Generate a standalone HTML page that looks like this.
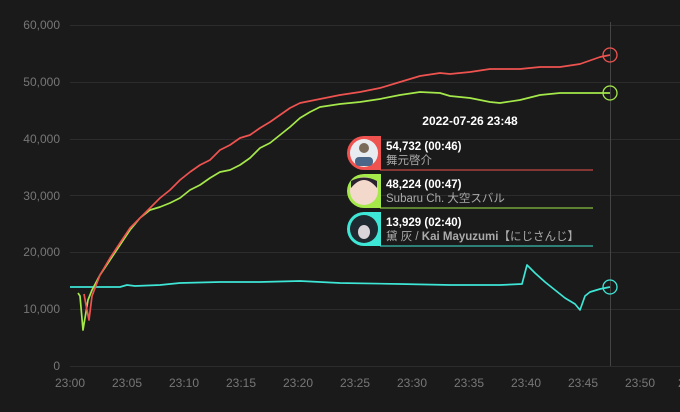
<!DOCTYPE html>
<html><head><style>
body{margin:0;background:#1a1a1a;}
svg{display:block;font-family:"Liberation Sans","Noto Sans CJK JP",sans-serif;}
</style></head><body>
<svg width="680" height="412" viewBox="0 0 680 412">
<rect width="680" height="412" fill="#1a1a1a"/>
<g stroke="#2c2c2c" stroke-width="1">
<line x1="70" x2="680" y1="25.5" y2="25.5"/><line x1="70" x2="680" y1="82.5" y2="82.5"/>
<line x1="70" x2="680" y1="139.5" y2="139.5"/><line x1="70" x2="680" y1="195.5" y2="195.5"/>
<line x1="70" x2="680" y1="252.5" y2="252.5"/><line x1="70" x2="680" y1="309.5" y2="309.5"/>
<line x1="70" x2="680" y1="366.5" y2="366.5"/>
</g>
<line x1="610.5" x2="610.5" y1="22" y2="366" stroke="#444" stroke-width="1"/>
<g fill="#777" font-size="12" text-anchor="end">
<text x="60" y="29">60,000</text><text x="60" y="86">50,000</text><text x="60" y="143">40,000</text>
<text x="60" y="200">30,000</text><text x="60" y="256">20,000</text><text x="60" y="313">10,000</text>
<text x="60" y="370">0</text></g>
<g fill="#777" font-size="12" text-anchor="middle">
<text x="70" y="387">23:00</text><text x="127" y="387">23:05</text><text x="184" y="387">23:10</text>
<text x="241" y="387">23:15</text><text x="298" y="387">23:20</text><text x="355" y="387">23:25</text>
<text x="412" y="387">23:30</text><text x="469" y="387">23:35</text><text x="526" y="387">23:40</text>
<text x="583" y="387">23:45</text><text x="640" y="387">23:50</text><text x="693" y="387">23:55</text></g>
<g fill="none" stroke-width="1.7" stroke-linejoin="round">
<polyline stroke="#3ee6d6" points="70,287 120,287 127,285 135,286 160,285 180,283 220,282 260,282 300,281 340,283 400,284 450,285 500,285 522,284 527,265 535,273 545,282 555,290 565,298 575,304 580,310 585,296 590,292 600,289 610,287"/>
<polyline stroke="#a4e84a" points="78,293 80,296 83,330 86,312 88,300 92,290 100,275 110,260 120,245 130,230 140,218 150,210 160,207 170,203 180,198 190,190 200,185 210,178 220,172 230,170 240,165 250,158 260,148 270,143 280,135 290,127 300,118 310,112 320,107 340,104 360,102 380,99 400,95 420,92 440,93 450,96 470,98 490,102 500,103 520,100 540,95 560,93 580,93 600,93 610,93"/>
<polyline stroke="#ef5350" points="84,294 86,305 89,320 92,296 100,275 110,258 120,243 130,228 140,218 150,208 160,198 170,190 180,180 190,172 200,165 210,160 220,150 230,145 240,138 250,135 260,128 270,122 280,115 290,108 300,103 320,99 340,95 360,92 380,88 400,82 420,76 440,73 450,74 470,72 490,69 520,69 540,67 560,67 580,64 600,57 610,55"/>
</g>
<circle cx="610" cy="55" r="7" fill="none" stroke="#ef5350" stroke-width="1.3"/>
<circle cx="610" cy="93" r="7" fill="none" stroke="#a4e84a" stroke-width="1.3"/>
<circle cx="610" cy="287" r="7" fill="none" stroke="#3ee6d6" stroke-width="1.3"/>
<text x="470" y="125" fill="#fff" font-size="12" font-weight="bold" text-anchor="middle">2022-07-26 23:48</text>
<g>
<rect x="364" y="136" width="17" height="34" fill="#ef5350"/>
<circle cx="364" cy="153" r="17" fill="#ef5350"/><circle cx="364" cy="153" r="14" fill="#e8ecf0"/>
<circle cx="364" cy="148" r="5" fill="#7a6a5a"/><rect x="355" y="157" width="18" height="9" rx="4" fill="#4a6688"/>
<line x1="380" x2="593" y1="170" y2="170" stroke="#ef5350" stroke-width="1"/>
<text x="386" y="150" fill="#fff" font-size="11.5" font-weight="bold">54,732 (00:46)</text>
<text x="386" y="164" fill="#aaa" font-size="11.5">舞元啓介</text>
<rect x="364" y="174" width="17" height="34" fill="#a4e84a"/>
<circle cx="364" cy="191" r="17" fill="#a4e84a"/><circle cx="364" cy="191" r="14" fill="#f3d8cc"/>
<path d="M351,188 Q364,172 377,188 L377,181 Q364,174 351,181Z" fill="#2a2230"/>
<line x1="380" x2="593" y1="208" y2="208" stroke="#a4e84a" stroke-width="1"/>
<text x="386" y="188" fill="#fff" font-size="11.5" font-weight="bold">48,224 (00:47)</text>
<text x="386" y="202" fill="#aaa" font-size="11.5">Subaru Ch. 大空スバル</text>
<rect x="364" y="212" width="17" height="34" fill="#3ee6d6"/>
<circle cx="364" cy="229" r="17" fill="#3ee6d6"/><circle cx="364" cy="229" r="14" fill="#1e2a30"/>
<ellipse cx="364" cy="232" rx="6" ry="7" fill="#d8d4d8"/>
<line x1="380" x2="593" y1="246" y2="246" stroke="#3ee6d6" stroke-width="1"/>
<text x="386" y="226" fill="#fff" font-size="11.5" font-weight="bold">13,929 (02:40)</text>
<text x="386" y="240" fill="#aaa" font-size="11.5">黛 灰 / <tspan font-weight="bold">Kai Mayuzumi</tspan>【にじさんじ】</text>
</g>
</svg>
</body></html>
